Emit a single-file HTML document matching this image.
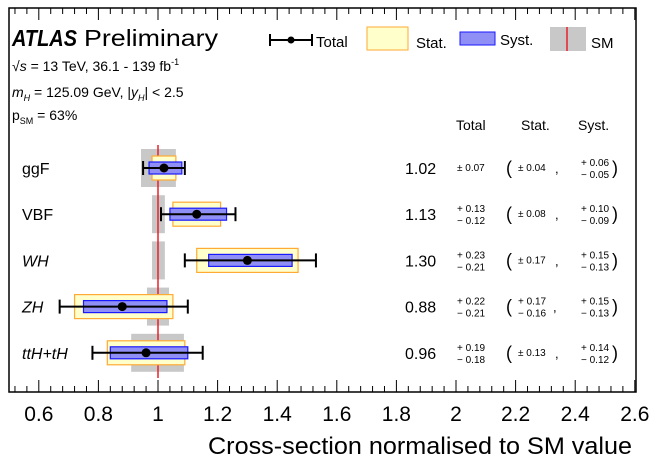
<!DOCTYPE html>
<html><head><meta charset="utf-8"><style>
body{margin:0;background:#fff;}
svg{display:block;font-family:"Liberation Sans",Arial,sans-serif;}
</style></head><body>
<svg id="c" width="655" height="469" viewBox="0 0 655 469">
<rect x="0" y="0" width="655" height="469" fill="#fff"/>
<g id="marks"></g>
<rect x="9" y="8" width="627" height="384" fill="none" stroke="#000" stroke-width="1.5"/>
<g id="ticks"></g>
<text x="632" y="454" font-size="24" text-anchor="end" textLength="424" lengthAdjust="spacingAndGlyphs">Cross-section normalised to SM value</text>
<g>
<text x="12" y="46" font-size="23" font-weight="bold" font-style="italic" textLength="65" lengthAdjust="spacingAndGlyphs">ATLAS</text>
<text x="84" y="46" font-size="23" textLength="134" lengthAdjust="spacingAndGlyphs">Preliminary</text>
</g>
<text x="12" y="71" font-size="14">√<tspan font-style="italic">s</tspan> = 13 TeV, 36.1 - 139 fb<tspan font-size="9" dy="-6">-1</tspan></text>
<text x="12" y="97" font-size="14"><tspan font-style="italic">m</tspan><tspan font-size="9" dy="4" font-style="italic">H</tspan><tspan dy="-4"> = 125.09 GeV, |</tspan><tspan font-style="italic">y</tspan><tspan font-size="9" dy="4" font-style="italic">H</tspan><tspan dy="-4">| &lt; 2.5</tspan></text>
<text x="12" y="120" font-size="14">p<tspan font-size="9" dy="4">SM</tspan><tspan dy="-4"> = 63%</tspan></text>
<g>
<g>
<line x1="270" y1="34" x2="270" y2="46" stroke="#000" stroke-width="2"/>
<line x1="312" y1="34" x2="312" y2="46" stroke="#000" stroke-width="2"/>
<line x1="269" y1="40" x2="312" y2="40" stroke="#000" stroke-width="2"/>
<circle cx="291" cy="40" r="3.5" fill="#000"/>
<text x="316" y="47" font-size="15">Total</text></g>
<g><rect x="367" y="27" width="41" height="23" fill="#ffffcc" stroke="#ffaa33" stroke-width="1"/>
<text x="416" y="48" font-size="15">Stat.</text></g>
<g><rect x="460" y="32" width="35" height="13" fill="#8f8ff5" stroke="#1a1aff" stroke-width="1"/>
<text x="500" y="45" font-size="15">Syst.</text></g>
<g><rect x="550" y="27" width="36" height="24" fill="#c8c8c8"/>
<line x1="567" y1="27" x2="567" y2="51" stroke="#e8202a" stroke-width="1.5"/>
<text x="591" y="48" font-size="15">SM</text></g>
</g>
<g>
<text x="456" y="130" font-size="14">Total</text>
<text x="521" y="130" font-size="14">Stat.</text>
<text x="578" y="130" font-size="14">Syst.</text>
</g>
<g id="table"></g>
</svg>
<script>
const processes = ["ggF","VBF","WH","ZH","ttH+tH"];
const italicLabel = [false,false,true,true,true];
const central = [1.02,1.13,1.30,0.88,0.96];
const totUp = [0.07,0.13,0.23,0.22,0.19];
const totDn = [0.07,0.12,0.21,0.21,0.18];
const statUp = [0.04,0.08,0.17,0.17,0.13];
const statDn = [0.04,0.08,0.17,0.16,0.13];
const systUp = [0.06,0.10,0.15,0.15,0.14];
const systDn = [0.05,0.09,0.13,0.13,0.12];
const smUp = [0.06,0.023,0.023,0.037,0.087];
const smDn = [0.057,0.02,0.02,0.037,0.09];
const xTicks = [0.6,0.8,1,1.2,1.4,1.6,1.8,2,2.2,2.4,2.6];

const NS="http://www.w3.org/2000/svg";
const X = v => 158 + 298*(v-1);
const Y = i => 168 + 46.2*i;
function mk(tag, attrs, parent){const e=document.createElementNS(NS,tag);for(const k in attrs)e.setAttribute(k,attrs[k]);parent.appendChild(e);return e;}
const marks=document.getElementById('marks');
const ticks=document.getElementById('ticks');
const table=document.getElementById('table');

processes.forEach((p,i)=>{
  const r=mk('rect',{x:X(1-smDn[i]),y:Y(i)-19,width:X(1+smUp[i])-X(1-smDn[i]),height:38,fill:'#c8c8c8'},marks);
  
  
});
const sm=mk('line',{x1:X(1),x2:X(1),y1:145,y2:378,stroke:'#e8202a','stroke-width':1.5},marks);



processes.forEach((p,i)=>{
  const y=Y(i), c=central[i];
  const g=mk('g',{},marks);
  
  
  mk('rect',{x:X(c-statDn[i]),y:y-12,width:X(c+statUp[i])-X(c-statDn[i]),height:24,fill:'#ffffcc',stroke:'#ffaa33','stroke-width':1.2},g);
  mk('rect',{x:X(c-systDn[i]),y:y-6,width:X(c+systUp[i])-X(c-systDn[i]),height:12,fill:'#8f8ff5',stroke:'#1a1aff','stroke-width':1.2},g);
  const a=X(c-totDn[i]), b=X(c+totUp[i]);
  mk('line',{x1:a,x2:b,y1:y,y2:y,stroke:'#000','stroke-width':2},g);
  mk('line',{x1:a,x2:a,y1:y-7,y2:y+7,stroke:'#000','stroke-width':2},g);
  mk('line',{x1:b,x2:b,y1:y-7,y2:y+7,stroke:'#000','stroke-width':2},g);
  mk('circle',{cx:X(c),cy:y,r:4.5,fill:'#000'},g);
  const lab=mk('text',{x:22,y:y+6,'font-size':16},marks);
  if(italicLabel[i]) lab.setAttribute('font-style','italic');
  lab.textContent=p;
  
  

  const row=mk('g',{},table);
  
  
  const v=mk('text',{x:405,y:y+6,'font-size':16},row); v.textContent=c.toFixed(2);
  function pm(x,up,dn){
    if(up===dn){const t=mk('text',{x:x,y:y+3,'font-size':10},row);t.textContent='± '+up.toFixed(2);return x+34;}
    else{const t1=mk('text',{x:x,y:y-2,'font-size':10},row);t1.textContent='+ '+up.toFixed(2);
         const t2=mk('text',{x:x,y:y+10,'font-size':10},row);t2.textContent='− '+dn.toFixed(2);return x+32;}
  }
  pm(457,totUp[i],totDn[i]);
  const o=mk('text',{x:506,y:y+6,'font-size':18},row);o.textContent='(';
  const ce=pm(518,statUp[i],statDn[i]);
  const cm=mk('text',{x:ce+3,y:y+5,'font-size':13},row);cm.textContent=',';
  pm(581,systUp[i],systDn[i]);
  const cl=mk('text',{x:612,y:y+6,'font-size':18},row);cl.textContent=')';
});

for(let k=0;k<=55;k++){
  const v=0.52+0.04*k; if(v>2.6001) break;
  const x=X(v);
  if(x<9||x>636) continue;
  const major = xTicks.some(t=>Math.abs(t-v)<1e-6);
  const len = major?12:6;
  mk('line',{x1:x,x2:x,y1:392,y2:392-len,stroke:'#000','stroke-width':1},ticks);
  mk('line',{x1:x,x2:x,y1:8,y2:8+len,stroke:'#000','stroke-width':1},ticks);
}
xTicks.forEach((t,i)=>{
  const tx=mk('text',{x:X(t),y:421,'font-size':21,'text-anchor':'middle'},ticks);
  tx.textContent=String(t);
  
  
});
</script>
</body></html>
